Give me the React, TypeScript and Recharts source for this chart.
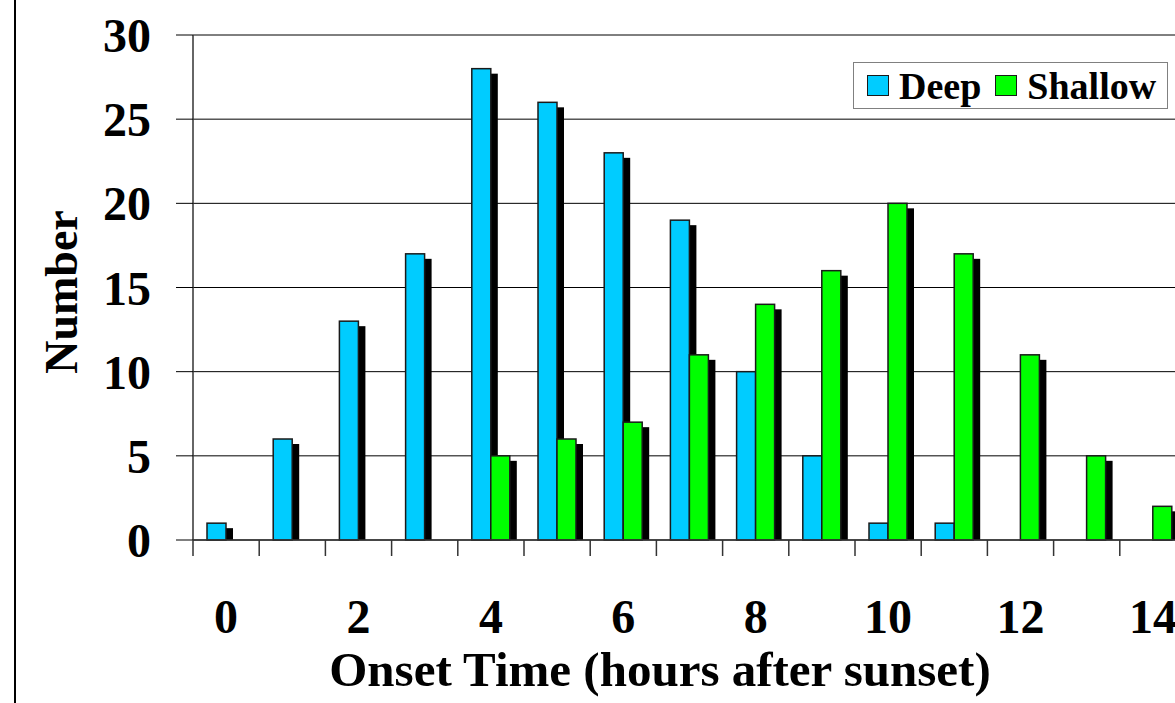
import React from 'react'
import { BarChart, Bar, XAxis, YAxis, CartesianGrid, Legend } from 'recharts'

const hours = [0, 1, 2, 3, 4, 5, 6, 7, 8, 9, 10, 11, 12, 13, 14]
const deep = [1, 6, 13, 17, 28, 26, 23, 19, 10, 5, 1, 1, 0, 0, 0]
const shallow = [0, 0, 0, 0, 5, 6, 7, 11, 14, 16, 20, 17, 11, 5, 2]
const yTicks = [0, 5, 10, 15, 20, 25, 30]

const data = hours.map((h, i) => ({ hour: h, Deep: deep[i], Shallow: shallow[i] }))

const FONT = '"Liberation Serif", "Times New Roman", serif'
const CHART_W = 1200
const CHART_H = 703
const PLOT_LEFT = 193
const PLOT_RIGHT = 1186
const BAND = (PLOT_RIGHT - PLOT_LEFT) / hours.length

// bar with a black drop shadow down and to the right
const ShadowBar = (props: any) => {
  const { x, y, width, height, fill } = props
  if (!height || height <= 0) return null
  return (
    <g>
      <rect x={x + 7} y={y + 5} width={width} height={Math.max(height - 5, 0)} fill="#000" />
      <rect x={x} y={y} width={width} height={height} fill={fill} stroke="#1a1a1a" strokeWidth={1.5} />
    </g>
  )
}

// tick marks sit on category boundaries, labels on every other hour
const HourTick = (props: any) => {
  const { x, y, payload, index } = props
  const edge = x - BAND / 2
  return (
    <g>
      <line x1={edge} x2={edge} y1={y} y2={y + 16} stroke="#333" strokeWidth={1.5} />
      {index % 2 === 0 && (
        <text x={x} y={y + 93} textAnchor="middle" fontFamily={FONT} fontWeight="bold" fontSize={48} fill="#000">
          {payload.value}
        </text>
      )}
    </g>
  )
}

const LegendBox = (props: any) => {
  const items = props.payload || []
  return (
    <div
      style={{
        width: 315,
        height: 47,
        border: '1.5px solid #808080',
        background: '#fff',
        display: 'flex',
        alignItems: 'center',
        paddingLeft: 13,
        boxSizing: 'border-box',
        fontFamily: FONT,
        fontWeight: 'bold',
        fontSize: 38,
        color: '#000',
      }}
    >
      {items.map((it: any) => (
        <span key={it.value} style={{ display: 'flex', alignItems: 'center', marginRight: 14 }}>
          <span
            style={{
              display: 'inline-block',
              width: 20,
              height: 19,
              background: it.color,
              border: '1.5px solid #1a1a1a',
              marginRight: 10,
            }}
          />
          <span style={{ lineHeight: 1 }}>{it.value}</span>
        </span>
      ))}
    </div>
  )
}

const OnsetChart = () => {
  return (
    <div
      style={{
        position: 'fixed',
        top: 0,
        left: 0,
        width: 1175,
        height: 703,
        overflow: 'hidden',
        background: '#fff',
      }}
    >
      <div style={{ position: 'absolute', left: 14, top: 0, width: 2, height: 703, background: '#000' }} />
      <BarChart
        width={CHART_W}
        height={CHART_H}
        data={data}
        margin={{ top: 35, right: CHART_W - PLOT_RIGHT, bottom: 0, left: 0 }}
        barGap={0}
        barSize={19}
      >
        <CartesianGrid vertical={false} stroke="#000" strokeWidth={1} />
        <XAxis
          dataKey="hour"
          height={CHART_H - 540}
          interval={0}
          tickLine={false}
          tickSize={0}
          tickMargin={0}
          axisLine={{ stroke: '#333', strokeWidth: 1.5 }}
          tick={<HourTick />}
          label={{
            content: () => (
              <text x={660} y={686} textAnchor="middle" fontFamily={FONT} fontWeight="bold" fontSize={49} fill="#000">
                Onset Time (hours after sunset)
              </text>
            ),
          }}
        />
        <YAxis
          width={PLOT_LEFT}
          domain={[0, 30]}
          ticks={yTicks}
          tickSize={17}
          tickMargin={25}
          tickLine={{ stroke: '#000' }}
          axisLine={{ stroke: '#333', strokeWidth: 1.5 }}
          tick={{ fontFamily: FONT, fontWeight: 'bold', fontSize: 48, fill: '#000' }}
          label={{
            content: () => (
              <text
                transform="translate(77,292) rotate(-90)"
                textAnchor="middle"
                fontFamily={FONT}
                fontWeight="bold"
                fontSize={46}
                fill="#000"
              >
                Number
              </text>
            ),
          }}
        />
        <Legend
          layout="vertical"
          align="center"
          verticalAlign="middle"
          wrapperStyle={{ top: 62, left: 853, width: 'auto' }}
          content={<LegendBox />}
        />
        <Bar dataKey="Deep" fill="#00CCFF" shape={<ShadowBar />} isAnimationActive={false} />
        <Bar dataKey="Shallow" fill="#00FF00" shape={<ShadowBar />} isAnimationActive={false} />
      </BarChart>
    </div>
  )
}

export default OnsetChart
